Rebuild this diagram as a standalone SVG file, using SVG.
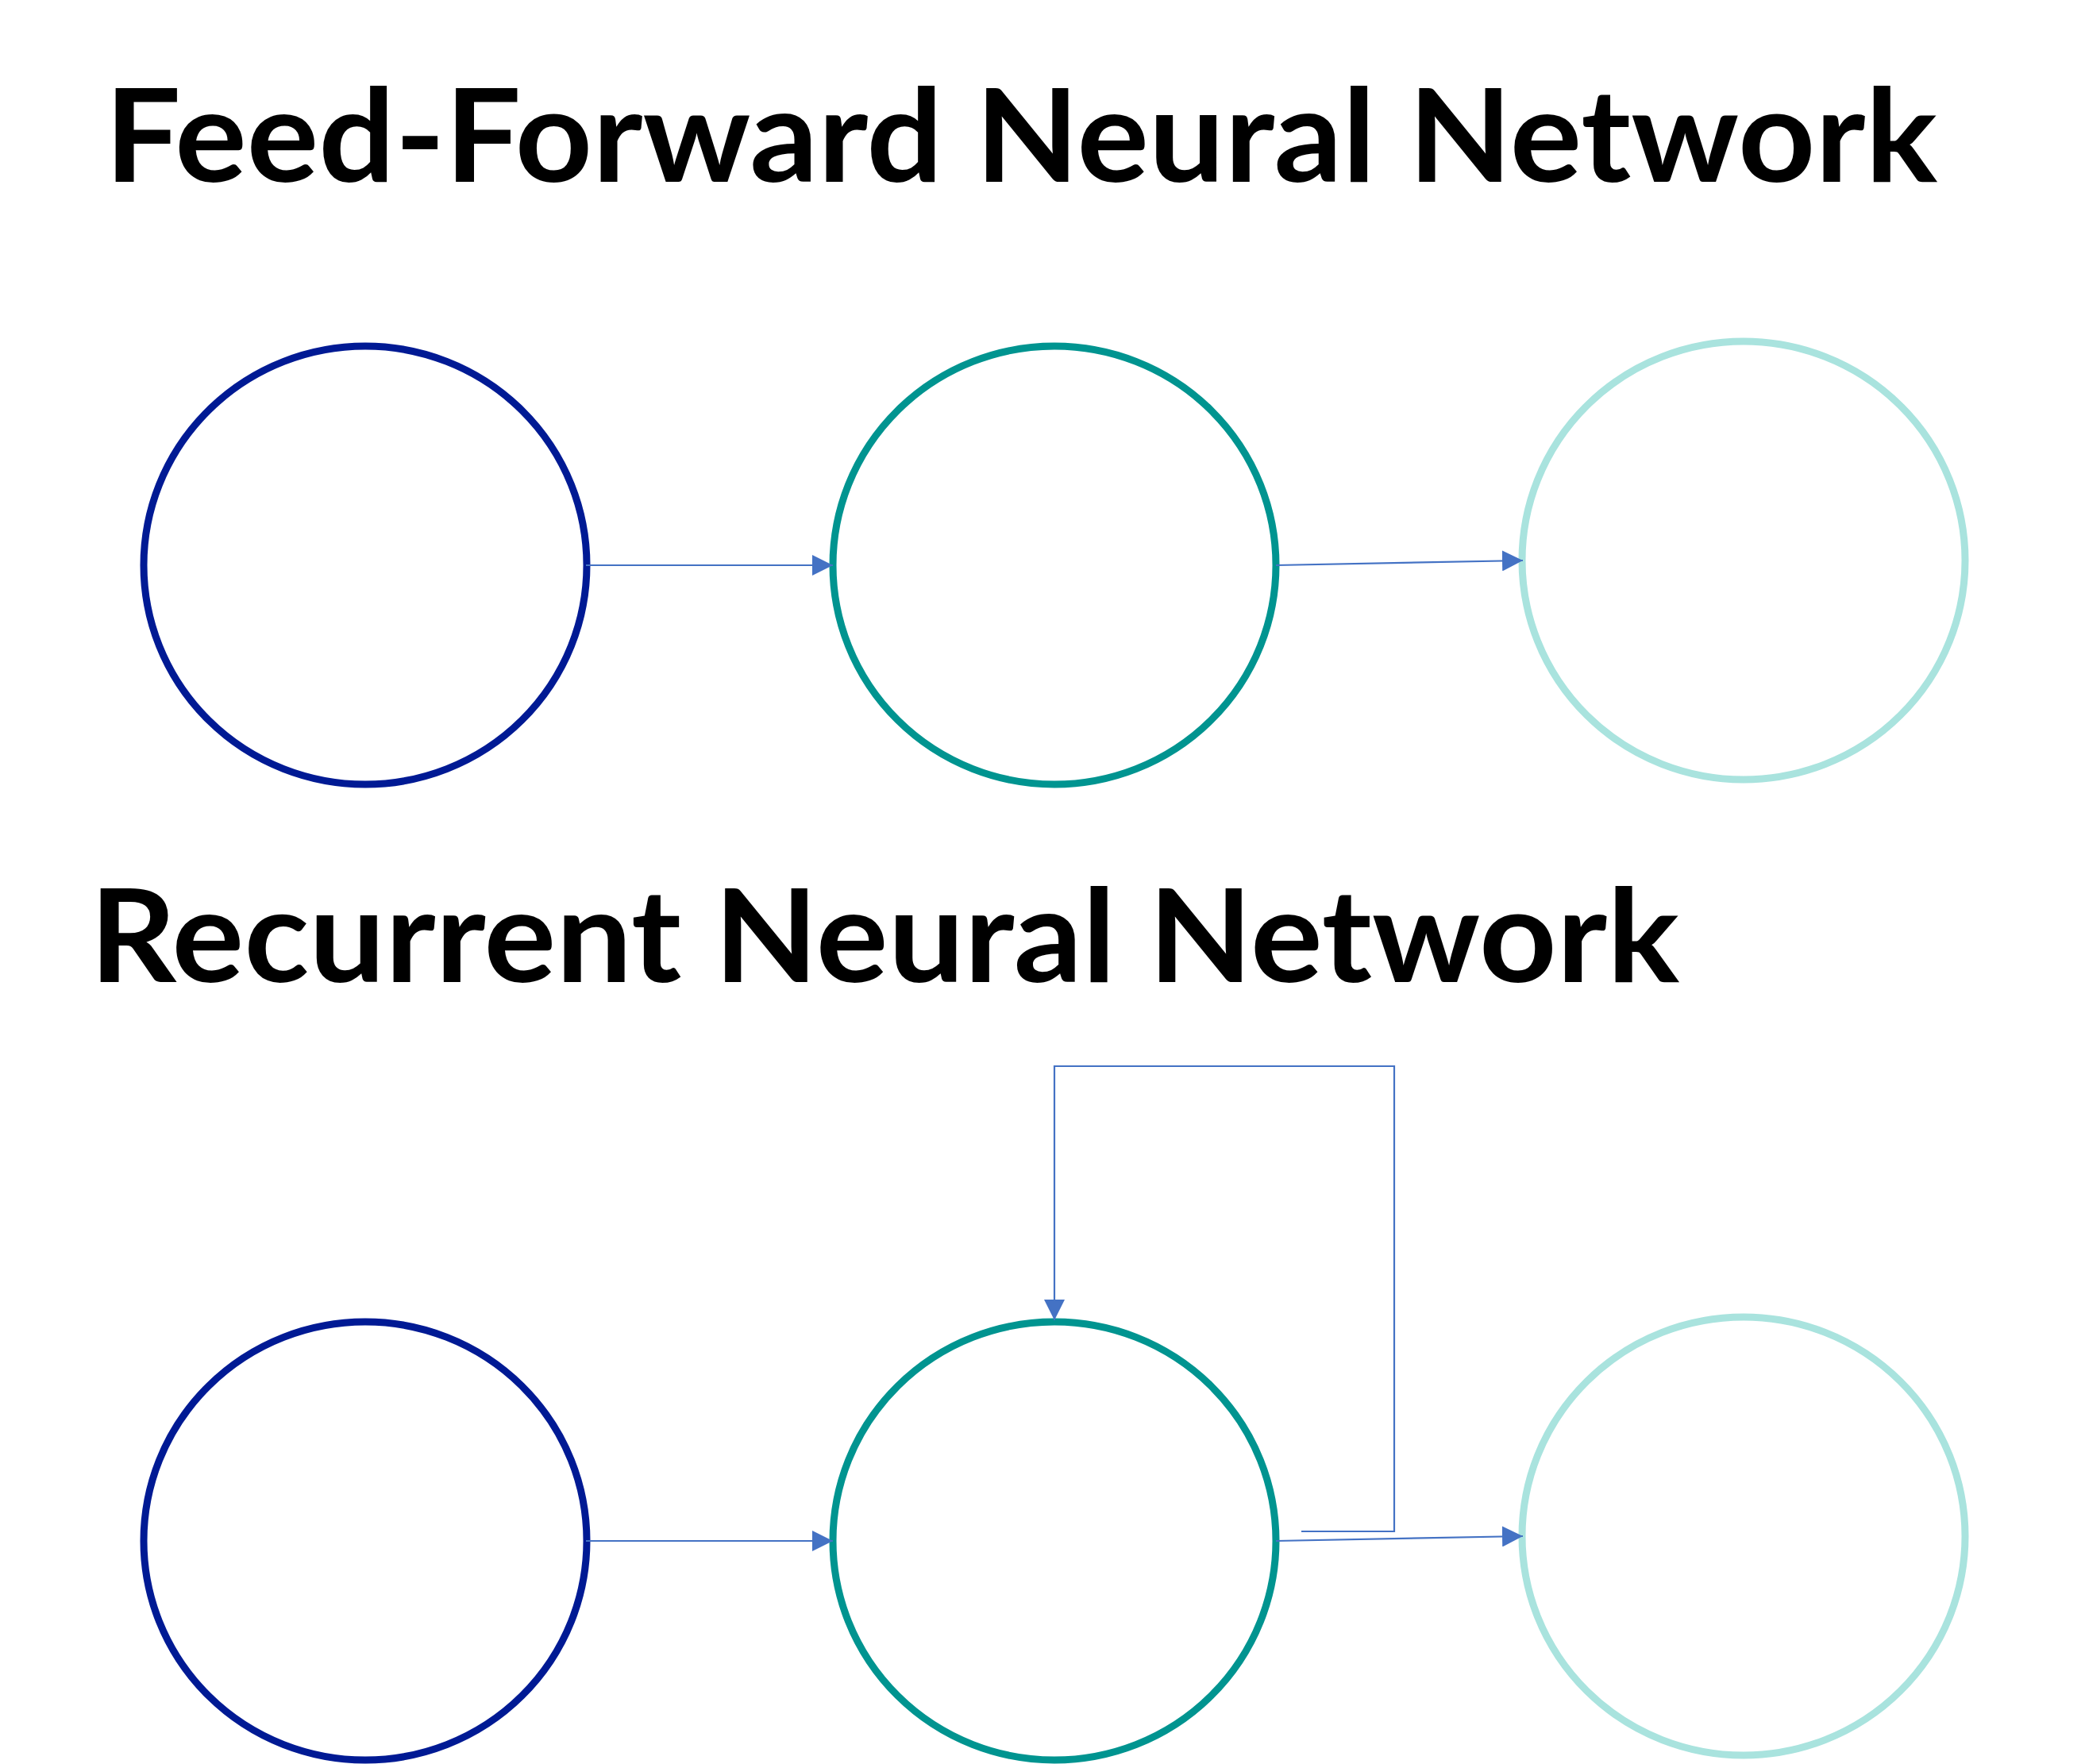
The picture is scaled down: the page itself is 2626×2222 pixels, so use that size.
<svg xmlns="http://www.w3.org/2000/svg" width="2626" height="2222" viewBox="0 0 2626 2222">
<style>
.title{font-family:Lato,"Open Sans","Liberation Sans",sans-serif;font-weight:bold;font-size:162px;fill:#000}
.node{fill:none;stroke-width:9}
.in{stroke:#001A94}
.hid{stroke:#009490}
.out{stroke:#A9E3DE}
.conn{fill:none;stroke:#4472C4;stroke-width:2.2}
</style>
<defs>
<marker id="ah" viewBox="0 0 26 26" refX="26" refY="13" markerWidth="26" markerHeight="26" markerUnits="userSpaceOnUse" orient="auto">
<path d="M0,0 L26,13 L0,26 Z" fill="#4472C4"/>
</marker>
</defs>
<rect width="2626" height="2222" fill="#fff"/>
<text class="title" x="132" y="229" textLength="2308" lengthAdjust="spacingAndGlyphs">Feed-Forward Neural Network</text>
<text class="title" x="113" y="1237" textLength="2002" lengthAdjust="spacingAndGlyphs">Recurrent Neural Network</text>
<g id="ff-input"><ellipse class="node in" cx="460" cy="712" rx="279" ry="276"/></g>
<g id="ff-hidden"><ellipse class="node hid" cx="1328" cy="712" rx="279" ry="276"/></g>
<g id="ff-output"><ellipse class="node out" cx="2196" cy="706" rx="279" ry="276"/></g>
<g id="rnn-input"><ellipse class="node in" cx="460" cy="1941" rx="279" ry="276"/></g>
<g id="rnn-hidden"><ellipse class="node hid" cx="1328" cy="1941" rx="279" ry="276"/></g>
<g id="rnn-output"><ellipse class="node out" cx="2196" cy="1935" rx="279" ry="276"/></g>
<g id="connectors">
<path class="conn" d="M738,712 L1049,712" marker-end="url(#ah)"/>
<path class="conn" d="M1607,712 L1918,706" marker-end="url(#ah)"/>
<path class="conn" d="M738,1941 L1049,1941" marker-end="url(#ah)"/>
<path class="conn" d="M1607,1941 L1918,1935" marker-end="url(#ah)"/>
<path class="conn" d="M1639,1929 H1756 V1343 H1328 V1663" marker-end="url(#ah)"/>
</g>
</svg>
